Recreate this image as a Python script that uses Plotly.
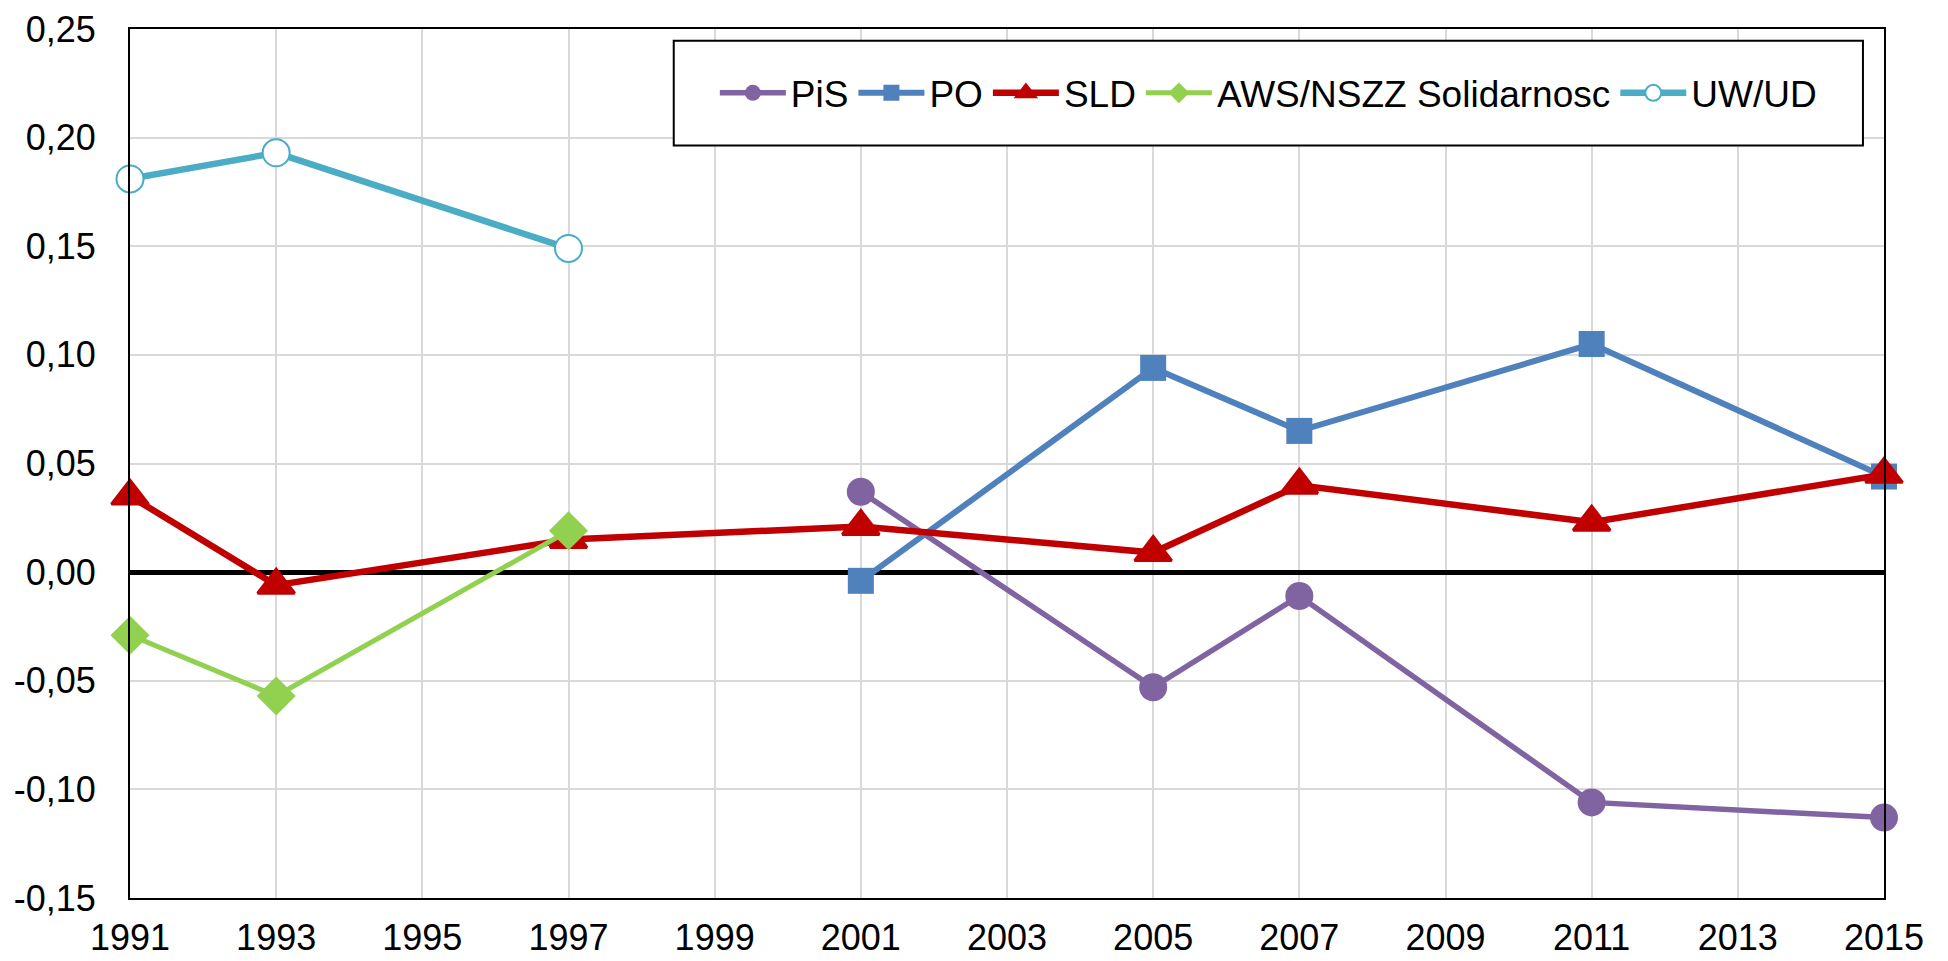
import plotly.graph_objects as go

# -------------------------------------------------
# DATA
# -------------------------------------------------

pis_years = [2001, 2005, 2007, 2011, 2015]
pis_values = [0.037, -0.053, -0.011, -0.106, -0.113]

po_years = [2001, 2005, 2007, 2011, 2015]
po_values = [-0.004, 0.094, 0.065, 0.105, 0.044]

sld_years = [1991, 1993, 1997, 2001, 2005, 2007, 2011, 2015]
sld_values = [0.035, -0.006, 0.015, 0.021, 0.009, 0.040, 0.023, 0.045]

aws_years = [1991, 1993, 1997]
aws_values = [-0.029, -0.057, 0.019]

uw_years = [1991, 1993, 1997]
uw_values = [0.181, 0.193, 0.149]

x_ticks = list(range(1991, 2016, 2))
y_ticks = [-0.15, -0.10, -0.05, 0.00, 0.05, 0.10, 0.15, 0.20, 0.25]
y_tick_labels = ["-0,15", "-0,10", "-0,05", "0,00", "0,05", "0,10", "0,15", "0,20", "0,25"]

FONT = "Arial, Liberation Sans, sans-serif"
FONT_SIZE = 36

# -------------------------------------------------
# TRACES
# -------------------------------------------------

fig = go.Figure()

fig.add_trace(go.Scatter(
    x=pis_years, y=pis_values, name="PiS", mode="lines+markers",
    line=dict(color="#8064A2", width=5.5),
    marker=dict(symbol="circle", size=28, color="#8064A2"),
    cliponaxis=False
))

fig.add_trace(go.Scatter(
    x=po_years, y=po_values, name="PO", mode="lines+markers",
    line=dict(color="#4F81BD", width=6),
    marker=dict(symbol="square", size=26, color="#4F81BD"),
    cliponaxis=False
))

fig.add_trace(go.Scatter(
    x=sld_years, y=sld_values, name="SLD", mode="lines+markers",
    line=dict(color="#C00000", width=6.5),
    marker=dict(symbol="triangle-up", size=32, color="#C00000",
                line=dict(color="#C00000", width=3)),
    cliponaxis=False
))

fig.add_trace(go.Scatter(
    x=aws_years, y=aws_values, name="AWS/NSZZ Solidarnosc", mode="lines+markers",
    line=dict(color="#92D050", width=5),
    marker=dict(symbol="diamond", size=30, color="#92D050"),
    cliponaxis=False
))

fig.add_trace(go.Scatter(
    x=uw_years, y=uw_values, name="UW/UD", mode="lines+markers",
    line=dict(color="#4BACC6", width=6.5),
    marker=dict(symbol="circle", size=27, color="white",
                line=dict(color="#4BACC6", width=2)),
    cliponaxis=False
))

# -------------------------------------------------
# LAYOUT
# -------------------------------------------------

# page body has an 8px margin, so the figure is 8px smaller each way
fig.update_layout(
    template="none",
    width=1940,
    height=953,
    margin=dict(l=122, r=64, t=21, b=63),
    paper_bgcolor="white",
    plot_bgcolor="white",
    font=dict(family=FONT, size=FONT_SIZE, color="black"),
    showlegend=True,
    legend=dict(
        orientation="h",
        x=0.649, y=0.926,
        xanchor="center", yanchor="middle",
        bgcolor="rgba(0,0,0,0)",
        borderwidth=0,
        itemwidth=66,
        font=dict(family=FONT, size=37, color="black")
    ),
    shapes=[dict(
        type="rect", xref="paper", yref="paper",
        x0=0.31, x1=0.988, y0=0.866, y1=0.9865,
        line=dict(color="black", width=2),
        fillcolor="white", layer="above"
    )]
)

fig.update_xaxes(
    range=[1991, 2015],
    tickvals=x_ticks,
    automargin=False,
    ticklabeloverflow="allow",
    showgrid=True, gridcolor="#D9D9D9", gridwidth=1.5,
    showline=True, linecolor="black", linewidth=2, mirror=True,
    ticks="", ticklabelstandoff=7,
    zeroline=False,
    tickfont=dict(family=FONT, size=FONT_SIZE, color="black")
)

fig.update_yaxes(
    range=[-0.15, 0.25],
    tickvals=y_ticks,
    ticktext=y_tick_labels,
    automargin=False,
    ticklabeloverflow="allow",
    showgrid=True, gridcolor="#D9D9D9", gridwidth=1.5,
    showline=True, linecolor="black", linewidth=2, mirror=True,
    zeroline=True, zerolinecolor="black", zerolinewidth=4.5,
    ticks="", ticklabelstandoff=25,
    tickfont=dict(family=FONT, size=FONT_SIZE, color="black")
)

fig.write_html("out.html")
